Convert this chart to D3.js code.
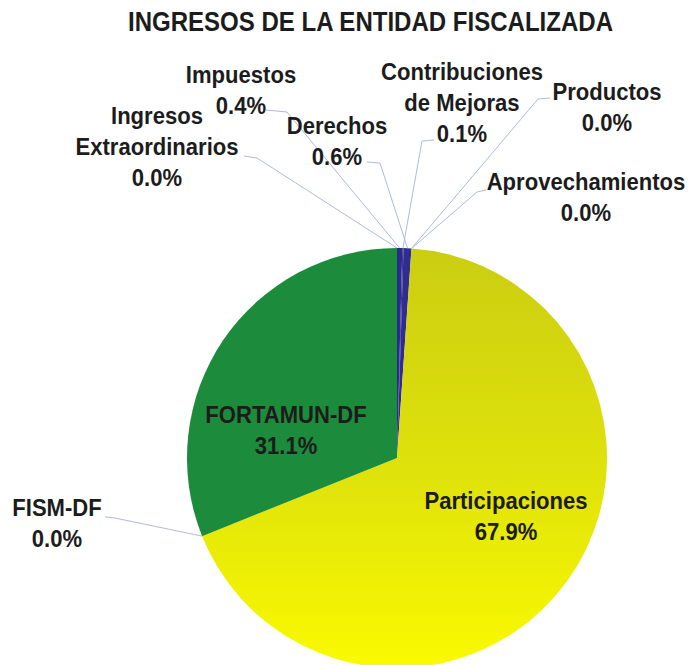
<!DOCTYPE html>
<html>
<head>
<meta charset="utf-8">
<script src="https://cdn.jsdelivr.net/npm/d3@7"></script>
<style>
  body { margin: 0; background: #fff; }
  text { font-family: "Liberation Sans", Arial, sans-serif; font-weight: bold; fill: #1c1c1c; }
</style>
</head>
<body>
<div id="chart"></div>
<script>
// datos de ingresos (%)
const categories = ["Impuestos", "Contribuciones de Mejoras", "Derechos", "Productos", "Aprovechamientos",
  "Participaciones", "FISM-DF", "FORTAMUN-DF", "Ingresos Extraordinarios"]
const values = [0.4, 0.1, 0.6, 0.0, 0.0, 67.9, 0.0, 31.1, 0.0]
const colors = ["#2b2a8c", "#3a3596", "#2f2e90", "#4a7bc0", "#8da0cb", "url(#gradPart)", "#6aa84f", "#1c8b3b", "#7b3f9e"]

const Width = 689, Height = 665
const cx = 397, cy = 458, radius = 210

const fontSize = 24
const squeeze = 0.92   // la fuente original es mas estrecha
const lineGap = 31

// etiquetas externas: centro x, linea base de la primera linea, ancla y codo de la linea guia
const labelLayout = {
  "Impuestos": { x: 241, y: 83, lines: ["Impuestos"], anchor: [266, 110], elbow: [287, 112] },
  "Ingresos Extraordinarios": { x: 157, y: 124, lines: ["Ingresos", "Extraordinarios"], anchor: [244, 156], elbow: [257, 158] },
  "Derechos": { x: 337, y: 134, lines: ["Derechos"], anchor: [367, 162], elbow: [380, 163] },
  "Contribuciones de Mejoras": { x: 462, y: 80, lines: ["Contribuciones", "de Mejoras"], anchor: [434, 140], elbow: [422, 141] },
  "Productos": { x: 607, y: 100, lines: ["Productos"], anchor: [550, 98], elbow: [538, 99] },
  "Aprovechamientos": { x: 586, y: 190, lines: ["Aprovechamientos"], anchor: [486, 190], elbow: [477, 192] },
  "FISM-DF": { x: 57, y: 516, lines: ["FISM-DF"], anchor: [105, 517], elbow: [115, 518] }
}
const innerLabels = {
  "FORTAMUN-DF": { x: 286, y: 423 },
  "Participaciones": { x: 506, y: 509 }
}

const svg = d3.select("#chart").append("svg")
  .attr("width", Width)
  .attr("height", Height)

const defs = svg.append("defs")
const grad = defs.append("linearGradient")
  .attr("id", "gradPart")
  .attr("x1", 0).attr("y1", 0).attr("x2", 0).attr("y2", 1)
grad.append("stop").attr("offset", "0%").attr("stop-color", "#cbcd12")
grad.append("stop").attr("offset", "55%").attr("stop-color", "#e0e30a")
grad.append("stop").attr("offset", "100%").attr("stop-color", "#fafa00")

// titulo
svg.append("text")
  .attr("x", 128)
  .attr("y", 31)
  .attr("textLength", 485)
  .attr("lengthAdjust", "spacingAndGlyphs")
  .style("font-size", "27px")
  .text("INGRESOS DE LA ENTIDAD FISCALIZADA")

const data = categories.map((c, i) => ({ name: c, value: values[i], color: colors[i] }))

const pie = d3.pie().sort(null).value(d => d.value)
const arcs = pie(data)

const arc = d3.arc().innerRadius(0).outerRadius(radius)

const g = svg.append("g").attr("transform", `translate(${cx},${cy})`)

g.selectAll("path")
  .data(arcs)
  .enter()
  .append("path")
  .attr("d", arc)
  .attr("fill", d => d.data.color)

// punto del borde en el angulo medio de la rebanada
const edgePoint = d => {
  const a = (d.startAngle + d.endAngle) / 2
  return [cx + radius * Math.sin(a), cy - radius * Math.cos(a)]
}

const fmt = v => v.toFixed(1) + "%"

const drawLabel = (x, y, lines) => {
  const t = svg.append("g")
    .attr("transform", `translate(${x},${y}) scale(${squeeze},1)`)
    .append("text")
    .attr("text-anchor", "middle")
    .style("font-size", fontSize + "px")
  lines.forEach((s, i) => {
    t.append("tspan").attr("x", 0).attr("y", i * lineGap).text(s)
  })
}

arcs.filter(d => labelLayout[d.data.name]).forEach(d => {
  const L = labelLayout[d.data.name]
  svg.append("polyline")
    .attr("points", [L.anchor, L.elbow, edgePoint(d)].map(p => p.join(",")).join(" "))
    .attr("fill", "none")
    .attr("stroke", "#aebbd8")
    .attr("stroke-width", 1)
  drawLabel(L.x, L.y, L.lines.concat([fmt(d.data.value)]))
})

arcs.filter(d => innerLabels[d.data.name]).forEach(d => {
  const L = innerLabels[d.data.name]
  drawLabel(L.x, L.y, [d.data.name, fmt(d.data.value)])
})
</script>
</body>
</html>
